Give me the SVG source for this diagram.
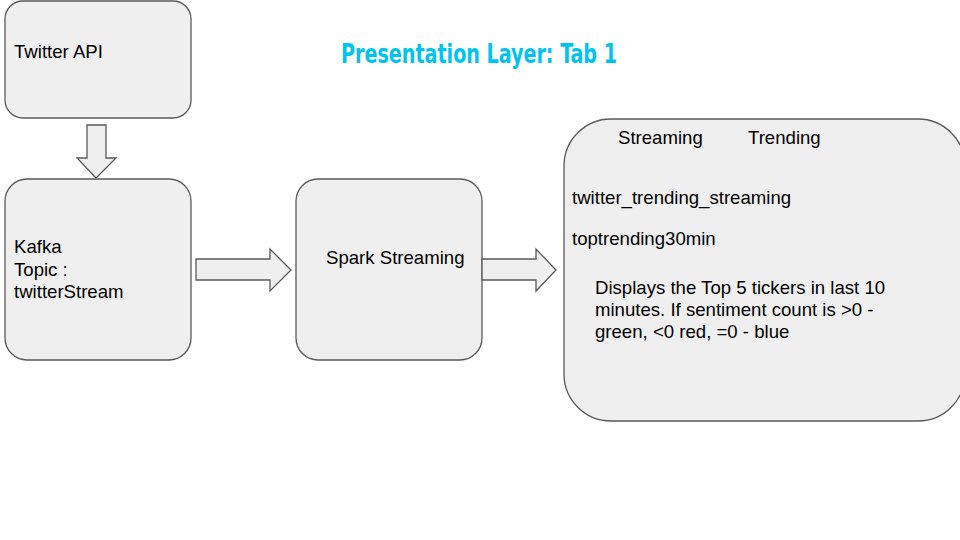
<svg xmlns="http://www.w3.org/2000/svg" width="960" height="540" viewBox="0 0 960 540">
<style>
.box{fill:#efefef;stroke:#595959;stroke-width:1.3}
.arr{fill:#efefef;stroke:#595959;stroke-width:1.3;stroke-linejoin:miter}
.t{font-family:"Liberation Sans",Arial,sans-serif;font-size:18.6px;fill:#000}
.title{font-family:"DejaVu Sans Condensed","DejaVu Sans",sans-serif;font-stretch:condensed;font-weight:bold;font-size:26px;fill:#00c3f0}
</style>
<rect width="960" height="540" fill="#fff"/>
<text class="title" x="341" y="63" textLength="276" lengthAdjust="spacingAndGlyphs">Presentation Layer: Tab 1</text>
<g id="twitter-api">
<rect class="box" x="5" y="1" width="186" height="117" rx="18"/>
<text class="t" x="14" y="58">Twitter API</text>
</g>
<g id="kafka">
<rect class="box" x="5" y="179" width="186" height="181" rx="22"/>
<text class="t" x="14" y="253">Kafka</text>
<text class="t" x="14" y="276">Topic :</text>
<text class="t" x="14" y="298">twitterStream</text>
</g>
<g id="spark">
<rect class="box" x="296" y="179" width="186" height="181" rx="22"/>
<text class="t" x="326" y="264">Spark Streaming</text>
</g>
<g id="presentation">
<rect class="box" x="564" y="119" width="401" height="302" rx="47"/>
<text class="t" x="618" y="144">Streaming</text>
<text class="t" x="748" y="144">Trending</text>
<text class="t" x="572" y="204">twitter_trending_streaming</text>
<text class="t" x="572" y="245">toptrending30min</text>
<text class="t" x="595" y="294">Displays the Top 5 tickers in last 10</text>
<text class="t" x="595" y="316">minutes. If sentiment count is &gt;0 -</text>
<text class="t" x="595" y="338">green, &lt;0 red, =0 - blue</text>
</g>
<g id="connectors">
<polygon class="arr" points="87,125 106,125 106,158 116,158 96,178 77,158 87,158"/>
<polygon class="arr" points="196,259 270,259 270,249 291,270 270,291 270,280 196,280"/>
<polygon class="arr" points="482,259 536,259 536,249 556,270 536,291 536,280 482,280"/>
</g>
</svg>
